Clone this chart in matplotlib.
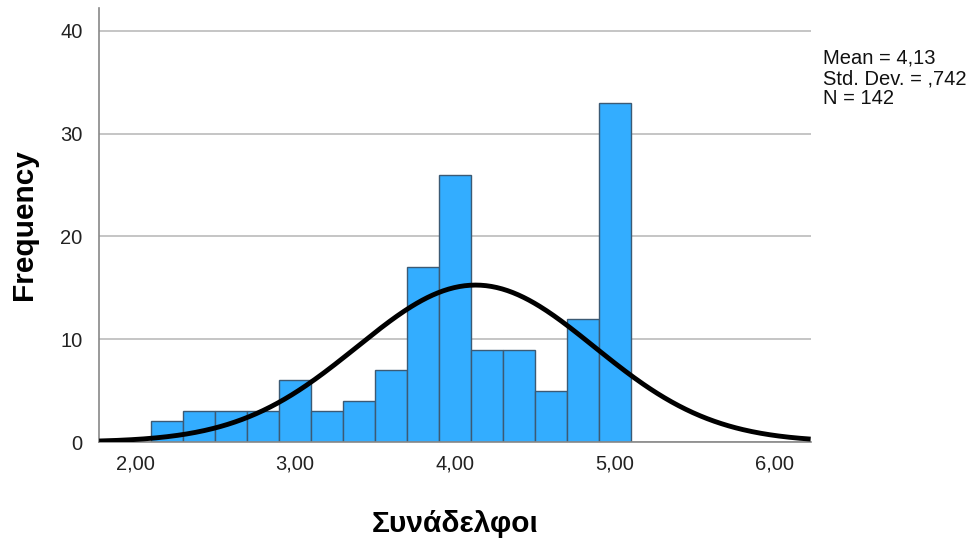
import numpy as np
import matplotlib
matplotlib.use("Agg")
import matplotlib.pyplot as plt

plt.rcParams['font.family'] = ['Liberation Sans', 'DejaVu Sans']

bin_centers = [2.2, 2.4, 2.6, 2.8, 3.0, 3.2, 3.4, 3.6, 3.8, 4.0, 4.2, 4.4, 4.6, 4.8, 5.0]
counts = [2, 3, 3, 3, 6, 3, 4, 7, 17, 26, 9, 9, 5, 12, 33]
mean, sd, n = 4.13, 0.742, 142
bin_width = 0.2
xticks = [2, 3, 4, 5, 6]
xticklabels = ["2,00", "3,00", "4,00", "5,00", "6,00"]
yticks = [0, 10, 20, 30, 40]

fig = plt.figure(figsize=(9.72, 5.38), dpi=100)
ax = fig.add_axes([0.102, 0.1784, 0.732, 0.807])

ax.set_xlim(1.775, 6.225)
ax.set_ylim(0, 42.24)
ax.yaxis.grid(True, color='#c0c0c0', linewidth=1.3)
ax.set_axisbelow(True)

ax.bar(bin_centers, counts, width=bin_width, color='#33adff', edgecolor='#3c5a74', linewidth=1.0, zorder=2)

xs = np.linspace(1.775, 6.225, 400)
ys = n * bin_width / (sd * np.sqrt(2 * np.pi)) * np.exp(-0.5 * ((xs - mean) / sd) ** 2)
ax.plot(xs, ys, color='black', linewidth=3.5, zorder=3, solid_capstyle='butt')

for s in ['top', 'right']:
    ax.spines[s].set_visible(False)
ax.spines['left'].set_color('#888888')
ax.spines['bottom'].set_color('#888888')
ax.spines['left'].set_linewidth(1.2)
ax.spines['bottom'].set_linewidth(1.2)

ax.set_xticks(xticks)
ax.set_xticklabels(xticklabels)
ax.set_yticks(yticks)
ax.tick_params(length=0, labelsize=14.5, colors='#222222')
ax.tick_params(axis='x', pad=9)
ax.tick_params(axis='y', pad=12)

ax.set_xlabel("Συνάδελφοι", fontsize=21.5, fontweight='bold', labelpad=26)
ax.set_ylabel("Frequency", fontsize=21.5, fontweight='bold', labelpad=16)

fig.text(823/972, 1 - 49/538, "Mean = 4,13\nStd. Dev. = ,742\nN = 142", fontsize=14.5,
         va='top', ha='left', linespacing=1.07, color='#111111')

fig.savefig("out.png", dpi=100)
